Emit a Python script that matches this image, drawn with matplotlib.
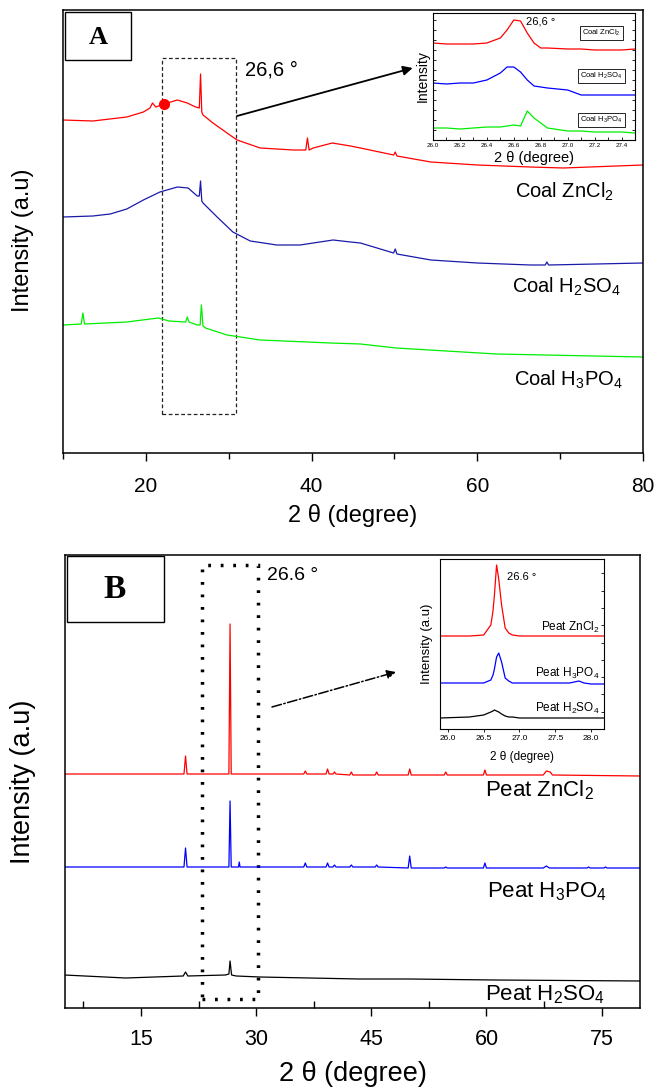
import matplotlib.pyplot as plt
from matplotlib.ticker import MultipleLocator
from matplotlib.patches import Rectangle

plt.rcParams['font.family'] = ['Liberation Sans', 'DejaVu Sans']
plt.rcParams['mathtext.default'] = 'regular'

W, H = 656, 1092

# ---------------- Panel A : coal, wide scan ----------------
coal_zncl2_x = [10, 13.6, 17.7, 19.7, 20.5, 20.8, 21.2, 22.2, 23.8, 25.0, 26.0, 26.45, 26.6,
                26.75, 26.9, 28.1, 29.8, 31, 33.8, 37.8, 39.3, 39.5, 39.7, 40.2, 42.5, 44.7,
                45.9, 49.9, 50.1, 50.3, 54.4, 60, 66.4, 70.4, 80]
coal_zncl2_y = [333, 332, 336, 341, 345, 350, 346, 349, 353, 350, 346, 345, 379,
                341, 338, 330, 320, 313, 305, 303, 303, 315, 303, 305, 310, 307,
                305, 298, 301, 297, 291, 288, 286, 285, 288]

coal_h2so4_x = [10, 13.6, 15.7, 17.7, 19.7, 21.7, 23.8, 25.1, 26.2, 26.45, 26.6, 26.75, 26.9,
                28.6, 30.5, 32.6, 35.8, 38.6, 42.6, 44.7, 45.9, 49.9, 50.1, 50.3, 54.4, 60,
                66.4, 68.2, 68.4, 68.6, 80]
coal_h2so4_y = [236, 237, 239, 244, 253, 261, 266, 265, 257, 257, 272, 252, 250,
                236, 221, 212, 208, 208, 213, 211, 210, 200, 204, 199, 193, 190,
                188, 188, 191, 188, 190]

coal_h3po4_x = [10, 12.2, 12.4, 12.6, 17.7, 21.5, 22.8, 24.8, 25.0, 25.2, 26.2, 26.55, 26.7,
                26.9, 27.2, 29.8, 33.8, 42.3, 45.9, 50.2, 62.3, 80]
coal_h3po4_y = [128, 129, 140, 129, 131, 135, 132, 131, 136, 131, 128, 128, 148,
                127, 125, 118, 113, 110, 109, 105, 99, 96]

marker_x, marker_y = 22.2, 349

# inset A (zoom on 26-27.5)
insA_x = [26.0, 26.1, 26.2, 26.3, 26.4, 26.5, 26.55, 26.6, 26.65, 26.7, 26.75, 26.8,
          26.85, 27.0, 27.1, 27.2, 27.4, 27.5]
insA_zncl2 = [97, 96, 96, 96, 97, 102, 110, 120, 119, 107, 97, 92, 92, 91, 91, 90, 90, 91]
insA_h2so4 = [57, 56, 57, 57, 60, 67, 73, 73, 68, 60, 54, 53, 52, 50, 45, 45, 45, 45]
insA_h3po4 = [12, 12, 11, 12, 13, 13, 14, 15, 14, 29, 22, 17, 12, 9, 9, 8, 8, 7]

# ---------------- Panel B : peat, wide scan ----------------
peat_zncl2_x = [5, 20.6, 20.8, 21.0, 26.45, 26.6, 26.75, 36.2, 36.4, 36.6, 39.1, 39.3, 39.5,
                40.0, 40.2, 40.4, 42.2, 42.4, 42.6, 45.5, 45.7, 45.9, 49.8, 50.0, 50.2,
                54.5, 54.7, 54.9, 59.6, 59.8, 60.0, 67.4, 67.8, 68.3, 68.6, 80]
peat_zncl2_y = [234, 234, 252, 234, 234, 384, 234, 234, 237, 234, 234, 239, 234,
                234, 236, 234, 233, 236, 233, 233, 236, 233, 233, 239, 233,
                233, 236, 233, 233, 238, 233, 233, 237, 236, 233, 232]

peat_h3po4_x = [5, 20.6, 20.8, 21.0, 26.45, 26.6, 26.75, 27.7, 27.8, 27.9, 36.2, 36.4, 36.6,
                39.1, 39.3, 39.5, 40.0, 40.2, 40.4, 42.2, 42.4, 42.6, 45.5, 45.7, 45.9,
                49.8, 50.0, 50.2, 54.5, 54.7, 54.9, 59.6, 59.8, 60.0, 67.4, 67.8, 68.2,
                73.1, 73.3, 73.5, 75.3, 75.5, 75.7, 80]
peat_h3po4_y = [141, 141, 160, 141, 141, 207, 141, 141, 146, 141, 141, 145, 141,
                141, 145, 141, 141, 143, 141, 141, 143, 141, 141, 143, 141,
                140, 152, 140, 140, 141, 140, 140, 145, 140, 140, 142, 140,
                140, 141, 140, 140, 141, 140, 140]

peat_h2so4_x = [5, 13, 20.5, 20.8, 21.1, 26.0, 26.45, 26.6, 26.8, 27.4, 30.5, 43.4, 50, 61, 80]
peat_h2so4_y = [33, 30, 32, 36, 32, 33, 34, 47, 33, 32, 31, 29, 29, 28, 27]

# inset B (zoom on 26-28)
insB_x = [25.89, 26.3, 26.5, 26.6, 26.63, 26.65, 26.68, 26.71, 26.75, 26.8, 26.85, 26.9,
          27.0, 27.7, 27.83, 27.9, 28.0, 28.18]
insB_zncl2 = [93, 93, 94, 104, 118, 134, 164, 150, 124, 101, 96, 94, 93, 93, 93, 93, 93, 93]
insB_h3po4 = [46, 46, 46, 49, 54, 60, 72, 76, 67, 51, 48, 46, 46, 46, 48, 46, 45, 45]
insB_h2so4 = [11, 12, 14, 17, 18, 19, 18, 17, 15, 13, 12, 12, 11, 11, 11, 11, 11, 11]


def fpos(x, y):
    """pixel position -> figure fraction"""
    return x / W, 1 - y / H


def frect(l, t, r, b):
    return [l / W, 1 - b / H, (r - l) / W, (b - t) / H]


fig = plt.figure(figsize=(W / 100, H / 100), dpi=100)

# ---------- Panel A ----------
axA = fig.add_axes(frect(63, 10, 643, 453))
axA.plot(coal_zncl2_x, coal_zncl2_y, color='#ff0000', lw=0.9)
axA.plot(coal_h2so4_x, coal_h2so4_y, color='#1a1aaa', lw=0.9)
axA.plot(coal_h3po4_x, coal_h3po4_y, color='#00ee00', lw=0.9)
axA.plot(marker_x, marker_y, 'o', color='#ff0000', ms=7)
axA.set_xlim(10, 80)
axA.set_ylim(0, 443)
axA.set_yticks([])
axA.xaxis.set_major_locator(MultipleLocator(20))
axA.xaxis.set_minor_locator(MultipleLocator(10))
axA.tick_params(axis='x', which='major', direction='out', length=6, width=1,
                labelsize=15, pad=11)
axA.tick_params(axis='x', which='minor', direction='out', length=4, width=1)
for s in axA.spines.values():
    s.set_linewidth(1.1)
axA.set_xlabel('2 θ (degree)', fontsize=17)
axA.xaxis.set_label_coords(0.5, -0.115)
axA.set_ylabel('Intensity (a.u)', fontsize=17)
axA.yaxis.set_label_coords(-0.05, 0.48)
axA.add_patch(Rectangle((22.0, 39), 8.9, 356, fill=False, ec='#222222', lw=0.9,
                        linestyle=(0, (3, 2))))
axA.annotate('', xy=(52.2, 385), xytext=(31.0, 337),
             arrowprops=dict(arrowstyle='-|>', color='black', lw=1.3,
                             mutation_scale=14, shrinkA=0, shrinkB=0))

fig.add_artist(Rectangle(fpos(65, 60), 66 / W, 48 / H, transform=fig.transFigure,
                         fill=False, ec='black', lw=1.0))
fig.text(*fpos(98, 37), 'A', family='Liberation Serif', weight='bold', fontsize=19,
         ha='center', va='center')
fig.text(*fpos(245, 70), '26,6 °', fontsize=14.5, ha='left', va='center')
fig.text(*fpos(515, 192), 'Coal ZnCl$_2$', fontsize=14.5, ha='left', va='center')
fig.text(*fpos(512, 287), 'Coal H$_2$SO$_4$', fontsize=14.5, ha='left', va='center')
fig.text(*fpos(514, 380), 'Coal H$_3$PO$_4$', fontsize=14.5, ha='left', va='center')

# inset A
insA = fig.add_axes(frect(433, 13, 635, 140))
insA.plot(insA_x, insA_zncl2, color='#ff0000', lw=0.9)
insA.plot(insA_x, insA_h2so4, color='#0000ff', lw=0.9)
insA.plot(insA_x, insA_h3po4, color='#00ee00', lw=0.9)
insA.set_xlim(26.0, 27.5)
insA.set_ylim(0, 127)
insA.set_xticks([26.0, 26.2, 26.4, 26.6, 26.8, 27.0, 27.2, 27.4])
insA.xaxis.set_minor_locator(MultipleLocator(0.1))
insA.yaxis.set_major_locator(MultipleLocator(10))
insA.tick_params(axis='x', which='both', direction='in', labelsize=4.5, pad=2,
                 length=2, width=0.6)
insA.tick_params(axis='y', which='both', direction='in', left=True, right=True,
                 labelleft=False, length=2, width=0.6)
for s in insA.spines.values():
    s.set_linewidth(0.8)
insA.set_xlabel('2 θ (degree)', fontsize=10.5)
insA.xaxis.set_label_coords(0.5, -0.085)
insA.set_ylabel('Intensity', fontsize=10)
insA.yaxis.set_label_coords(-0.015, 0.5)
insA.text(26.69, 118, '26,6 °', fontsize=8, ha='left', va='center')
box = dict(boxstyle='square,pad=0.25', fc='white', ec='black', lw=0.6)
insA.text(27.25, 107, 'Coal ZnCl$_2$', fontsize=5.5, ha='center', va='center', bbox=box)
insA.text(27.25, 64, 'Coal H$_2$SO$_4$', fontsize=5.5, ha='center', va='center', bbox=box)
insA.text(27.25, 20, 'Coal H$_3$PO$_4$', fontsize=5.5, ha='center', va='center', bbox=box)

# ---------- Panel B ----------
axB = fig.add_axes(frect(65, 555, 640, 1008))
axB.plot(peat_zncl2_x, peat_zncl2_y, color='#ff0000', lw=0.9)
axB.plot(peat_h3po4_x, peat_h3po4_y, color='#0000ff', lw=0.9)
axB.plot(peat_h2so4_x, peat_h2so4_y, color='black', lw=0.9)
axB.set_xlim(5.1, 80)
axB.set_ylim(0, 453)
axB.set_yticks([])
axB.xaxis.set_major_locator(MultipleLocator(15))
axB.xaxis.set_minor_locator(MultipleLocator(7.5))
axB.tick_params(axis='x', which='major', direction='out', length=6, width=1,
                labelsize=15.5, pad=9)
axB.tick_params(axis='x', which='minor', direction='in', length=5, width=1)
for s in axB.spines.values():
    s.set_linewidth(1.1)
axB.set_xlabel('2 θ (degree)', fontsize=19.5)
axB.xaxis.set_label_coords(0.5, -0.118)
axB.set_ylabel('Intensity (a.u)', fontsize=19.5)
axB.yaxis.set_label_coords(-0.05, 0.5)
axB.add_patch(Rectangle((22.95, 9), 7.3, 434, fill=False, ec='black', lw=2.5,
                        linestyle=(0, (0.8, 2.8))))
axB.annotate('', xy=(48.2, 336), xytext=(32.06, 301),
             arrowprops=dict(arrowstyle='-|>', color='black', lw=1.1, linestyle='-.',
                             mutation_scale=13, shrinkA=0, shrinkB=0))

fig.add_artist(Rectangle(fpos(67, 622), 97 / W, 66 / H, transform=fig.transFigure,
                         fill=False, ec='black', lw=1.0))
fig.text(*fpos(115, 590), 'B', family='Liberation Serif', weight='bold', fontsize=24,
         ha='center', va='center')
fig.text(*fpos(267, 575), '26.6 °', fontsize=14, ha='left', va='center')
fig.text(*fpos(485, 790), 'Peat ZnCl$_2$', fontsize=16, ha='left', va='center')
fig.text(*fpos(487, 892), 'Peat H$_3$PO$_4$', fontsize=16, ha='left', va='center')
fig.text(*fpos(485, 995), 'Peat H$_2$SO$_4$', fontsize=16, ha='left', va='center')

# inset B
insB = fig.add_axes(frect(440, 559, 604, 729))
insB.plot(insB_x, insB_zncl2, color='#ff0000', lw=0.9)
insB.plot(insB_x, insB_h3po4, color='#0000ff', lw=0.9)
insB.plot(insB_x, insB_h2so4, color='black', lw=0.9)
insB.set_xlim(25.89, 28.18)
insB.set_ylim(0, 170)
insB.set_xticks([26.0, 26.5, 27.0, 27.5, 28.0])
insB.yaxis.set_major_locator(MultipleLocator(17.3))
insB.tick_params(axis='x', direction='out', labelsize=6, pad=2, length=2.5, width=0.6)
insB.tick_params(axis='y', direction='in', left=False, right=True, labelleft=False,
                 length=2.5, width=0.6)
for s in insB.spines.values():
    s.set_linewidth(0.8)
insB.set_xlabel('2 θ (degree)', fontsize=8.5)
insB.xaxis.set_label_coords(0.5, -0.13)
insB.set_ylabel('Intensity (a.u)', fontsize=9.5)
insB.yaxis.set_label_coords(-0.04, 0.5)
insB.text(26.83, 152, '26.6 °', fontsize=8, ha='left', va='center')
insB.text(28.12, 102, 'Peat ZnCl$_2$', fontsize=8.5, ha='right', va='center')
insB.text(28.12, 56, 'Peat H$_3$PO$_4$', fontsize=8.5, ha='right', va='center')
insB.text(28.12, 21, 'Peat H$_2$SO$_4$', fontsize=8.5, ha='right', va='center')

fig.savefig('out.png', dpi=100)
